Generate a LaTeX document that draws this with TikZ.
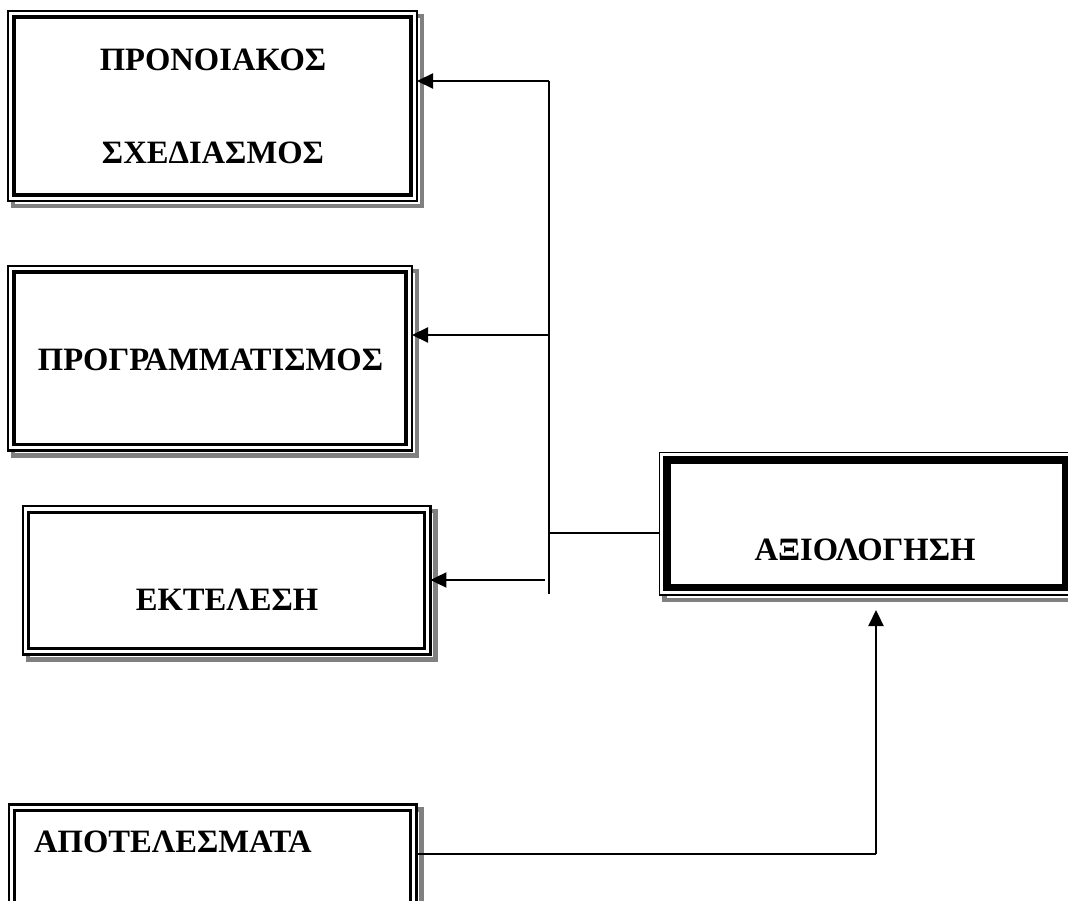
\documentclass[tikz,border=0pt]{standalone}
\usepackage{fontspec}
\setmainfont{Liberation Serif}
\usetikzlibrary{arrows.meta,backgrounds}
\definecolor{shadowgray}{gray}{0.5}
\begin{document}
\begin{tikzpicture}[x=1pt,y=-1pt,
  framebox/.style={rectangle, draw=black, line width=2.2pt, fill=white,
    inner sep=0pt, outer sep=0pt},
  innerframe/.style={draw=black, line width=3.3pt},
  heavyframe/.style={draw=black, line width=7.3pt},
  shadowline/.style={draw=shadowgray, line width=4.4pt},
  boxtext/.style={inner sep=0pt, font=\fontsize{32.6}{38}\selectfont\bfseries},
  wire/.style={draw=black, line width=1.8pt},
  arrowline/.style={draw=black, line width=2.2pt, -{Triangle[length=16pt,width=15pt]}}
]
\useasboundingbox (0,0) rectangle (1068,901);

% outer frames of the five stages
\node[framebox, minimum width=409pt,   minimum height=190pt]   (plan) at (212.5,106)    {};
\node[framebox, minimum width=404pt,   minimum height=184.5pt] (prog) at (210,358.25)  {};
\node[framebox, minimum width=407.7pt, minimum height=148.3pt] (exec) at (226.6,580.3) {};
\node[framebox, line width=1.7pt, minimum width=413.5pt, minimum height=142.5pt] (eval) at (866.25,523.75) {};
\node[framebox, minimum width=407.8pt, minimum height=107.5pt] (res)  at (212.6,858.25) {};

% inner frames
\foreach \n in {plan,prog,exec,res}
  \draw[innerframe] ([shift={(6,6)}]\n.north west) rectangle ([shift={(-6,-6)}]\n.south east);
\draw[heavyframe] ([shift={(7.5,7.5)}]eval.north west) rectangle ([shift={(-7.5,-7.5)}]eval.south east);

% drop shadows behind the frames
\begin{scope}[on background layer]
  \fill[white] (0,0) rectangle (1068,901);
  \foreach \n in {plan,prog,exec,res,eval}
    \draw[shadowline] ([shift={(5,5)}]\n.north west) rectangle ([shift={(5,5)}]\n.south east);
\end{scope}

% labels
\node[boxtext, anchor=base] (plantop) at (213,70.7)   {ΠΡΟΝΟΙΑΚΟΣ};
\node[boxtext, anchor=base] (planbot) at (213,164)    {ΣΧΕΔΙΑΣΜΟΣ};
\node[boxtext, anchor=base] (progtxt) at (210.5,370)  {ΠΡΟΓΡΑΜΜΑΤΙΣΜΟΣ};
\node[boxtext, anchor=base] (exectxt) at (227,610)    {ΕΚΤΕΛΕΣΗ};
\node[boxtext, anchor=base] (evaltxt) at (865,560)    {ΑΞΙΟΛΟΓΗΣΗ};
\node[boxtext, anchor=base west] (restxt) at (34,852.7) {ΑΠΟΤΕΛΕΣΜΑΤΑ};

% feedback bus
\coordinate (bustop)   at (549,81);
\coordinate (progtap)  at (549,335);
\coordinate (evaljoin) at (549,533);
\coordinate (busbot)   at (549,594);
\coordinate (exectail) at (545,580);
\coordinate (upturn)   at (876,854);

\draw[wire] (bustop) -- (busbot);
\draw[wire] (eval.west |- evaljoin) -- (evaljoin);
\draw[arrowline] (bustop) -- (bustop -| plan.east);
\draw[arrowline] (progtap) -- (progtap -| prog.east);
\draw[arrowline] (exectail) -- (exectail -| exec.east);

% results feed the evaluation
\draw[wire] (res.east |- upturn) -- (upturn);
\draw[arrowline, shorten >=15pt] (upturn) -- (upturn |- eval.south);
\end{tikzpicture}
\end{document}
